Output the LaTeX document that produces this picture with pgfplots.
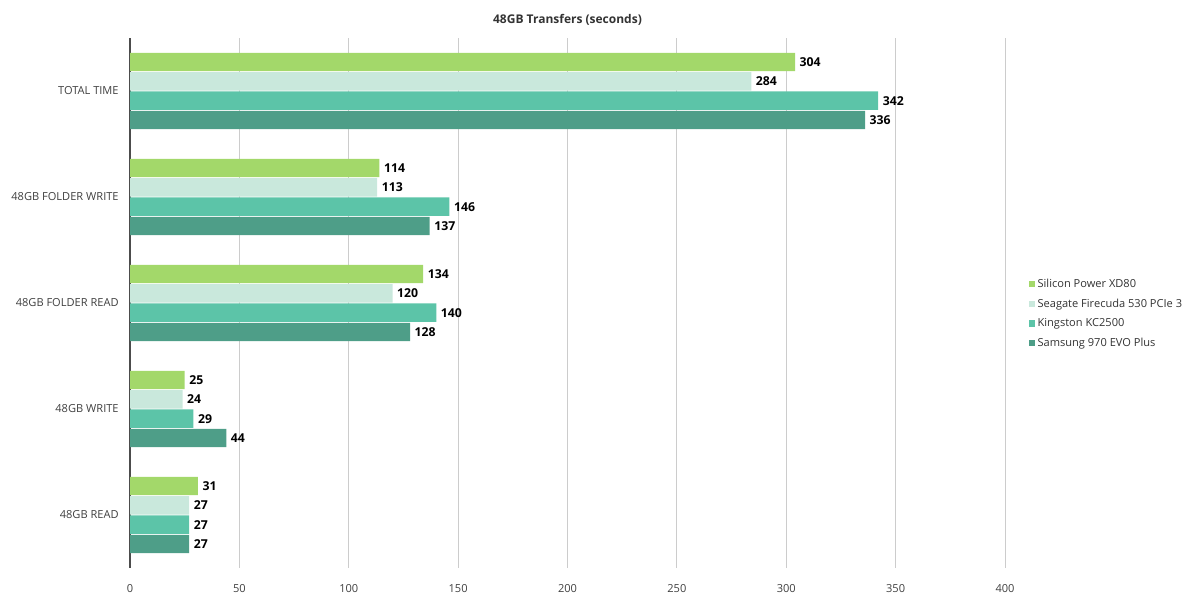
\documentclass[border=0pt]{standalone}
\usepackage{pgfplots}
\pgfplotsset{compat=1.18}
\usepackage{fontspec}
\setmainfont{Open Sans}
\definecolor{cA}{HTML}{A3D86A}
\definecolor{cB}{HTML}{C9E8DC}
\definecolor{cC}{HTML}{5CC4A8}
\definecolor{cD}{HTML}{4E9E88}
\begin{document}
\begin{tikzpicture}
\path[use as bounding box] (0,0) rectangle (900pt,452.25pt);
\begin{axis}[
  at={(97.5pt,26.25pt)}, anchor=south west,
  scale only axis, width=656.25pt, height=397.5pt,
  xbar=0.7pt, bar width=13.8pt,
  xmin=0, xmax=400, ymin=-0.5, ymax=4.5,
  ytick={0,1,2,3,4},
  yticklabels={48GB READ,48GB WRITE,48GB FOLDER READ,48GB FOLDER WRITE,TOTAL TIME},
  xtick={0,50,...,400},
  /pgf/number format/assume math mode=true,
  major tick length=0pt,
  tick label style={font=\fontsize{8.3pt}{10pt}\selectfont, text=black!75},
  xticklabel style={yshift=-9pt},
  yticklabel style={xshift=-5pt},
  xmajorgrids, grid style={black!20, line width=0.6pt},
  axis x line*=bottom, x axis line style={draw=none},
  axis y line*=left, y axis line style={draw=black!70, line width=1pt, -},
  title={48GB Transfers (seconds)},
  title style={font=\fontsize{9pt}{10pt}\selectfont\bfseries, text=black!80, yshift=0pt},
  nodes near coords,
  nodes near coords style={font=\fontsize{9.2pt}{10pt}\selectfont\bfseries, text=black, anchor=west, xshift=0pt},
  reverse legend,
  legend style={at={(1.022,0.48)}, anchor=west, draw=none, fill=none,
    font=\fontsize{8.3pt}{9pt}\selectfont, text=black!80, row sep=3pt,
    legend cell align=left},
  legend image code/.code={\fill[#1] (0pt,-2.4pt) rectangle (4.8pt,2.4pt);},
]
\addplot[fill=cD, draw=none] coordinates {(336,4) (137,3) (128,2) (44,1) (27,0)};
\addplot[fill=cC, draw=none] coordinates {(342,4) (146,3) (140,2) (29,1) (27,0)};
\addplot[fill=cB, draw=none] coordinates {(284,4) (113,3) (120,2) (24,1) (27,0)};
\addplot[fill=cA, draw=none] coordinates {(304,4) (114,3) (134,2) (25,1) (31,0)};
\legend{Samsung 970 EVO Plus, Kingston KC2500, Seagate Firecuda 530 PCIe 3, Silicon Power XD80}
\end{axis}
\end{tikzpicture}
\end{document}
